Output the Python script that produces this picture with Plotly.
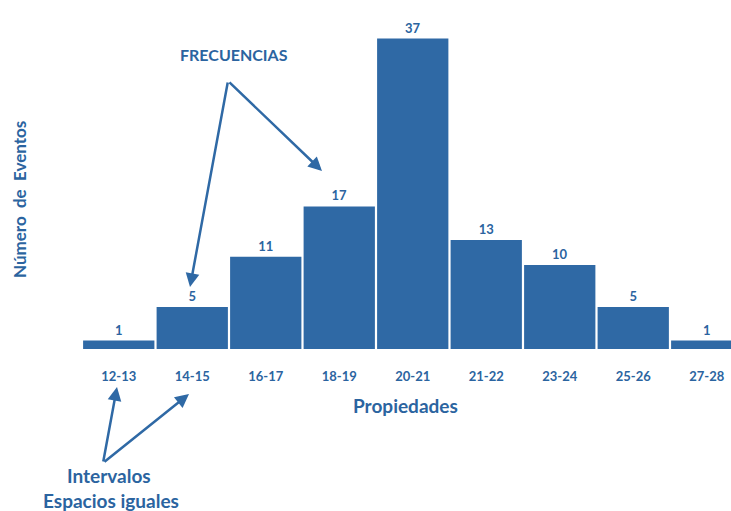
import plotly.graph_objects as go

categories = ["12-13", "14-15", "16-17", "18-19", "20-21", "21-22", "23-24", "25-26", "27-28"]
frequencies = [1, 5, 11, 17, 37, 13, 10, 5, 1]

BLUE = "#2F69A5"
TXT = "#2B64A0"
FONT = "Lato"

fig = go.Figure()
fig.add_trace(go.Bar(
    x=list(range(len(categories))),
    y=frequencies,
    marker=dict(color=BLUE, line=dict(width=0)),
    text=[str(v) for v in frequencies],
    textposition="outside",
    textfont=dict(family=FONT, size=13, color=TXT, weight="bold"),
    cliponaxis=False,
))

W, H = 731, 511
L, R, T, B = 82, 0, 0, 162
pw, ph = W - L - R, H - T - B

def px(x):
    return (x - L) / pw

def py(y):
    return (H - B - y) / ph

def label(text, x, y, size, angle=0):
    return dict(text=text, x=px(x), y=py(y), xref="paper", yref="paper",
                xanchor="center", yanchor="middle", textangle=angle,
                showarrow=False, font=dict(family=FONT, size=size, color=TXT, weight="bold"))

annotations = [
    label("FRECUENCIAS", 234, 54, 16),
    label("Intervalos", 109, 475, 19),
    label("Espacios iguales", 111, 500, 19),
    label("Propiedades", 405, 406, 19),
    label("Número  de  Eventos", 19, 200, 17, angle=-90),
]
arrows = [((190, 287), (228, 81)), ((322, 171), (228, 81)),
          ((117, 387), (103, 463)), ((189, 394), (103, 463))]
for (hx, hy), (tx, ty) in arrows:
    annotations.append(dict(
        text="", x=px(hx), y=py(hy), xref="paper", yref="paper",
        ax=tx - hx, ay=ty - hy, axref="pixel", ayref="pixel",
        showarrow=True, arrowhead=2, arrowsize=1.1, arrowwidth=2.5, arrowcolor=BLUE,
        standoff=0, startstandoff=0,
    ))

fig.update_layout(
    width=W, height=H,
    margin=dict(l=L, r=R, t=T, b=B),
    paper_bgcolor="white", plot_bgcolor="white",
    bargap=0.03,
    showlegend=False,
    annotations=annotations,
    xaxis=dict(
        range=[-0.5, 8.33],
        tickvals=list(range(len(categories))),
        ticktext=categories,
        tickfont=dict(family=FONT, size=13, color=TXT, weight="bold"),
        ticklabelstandoff=18,
        showgrid=False, zeroline=False, showline=False, ticks="",
    ),
    yaxis=dict(
        range=[0, 41.6],
        showticklabels=False, showgrid=False, zeroline=False, ticks="",
        showline=False,
    ),
)

fig.write_html("out.html")
